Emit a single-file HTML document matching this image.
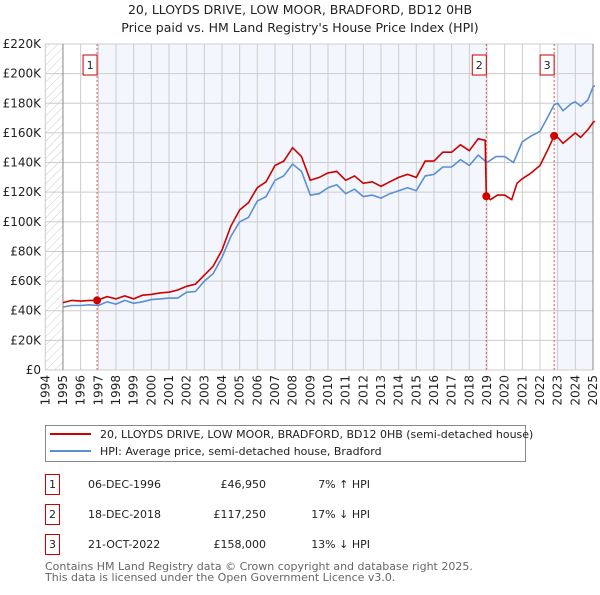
<!DOCTYPE html>
<html><head><meta charset="utf-8"><style>
body{margin:0;background:#fff;font-family:"Liberation Sans","DejaVu Sans",sans-serif;}
svg text{font-family:"DejaVu Sans","Liberation Sans",sans-serif;}
</style></head><body>
<svg id="c" width="600" height="590" xmlns="http://www.w3.org/2000/svg">
<defs><pattern id="hatch" width="6" height="6" patternUnits="userSpaceOnUse" patternTransform="rotate(45)"><line x1="0" y1="0" x2="0" y2="6" stroke="#ccc" stroke-width="1"/></pattern></defs>
<text x="300" y="14" text-anchor="middle" font-size="12.5" fill="#222">20, LLOYDS DRIVE, LOW MOOR, BRADFORD, BD12 0HB</text>
<text x="300" y="32" text-anchor="middle" font-size="12.5" fill="#222">Price paid vs. HM Land Registry's House Price Index (HPI)</text>
<g id="plot"></g>
<g>
<rect x="45.5" y="425.5" width="480" height="36" fill="#fff" stroke="#888"/>
<line x1="50" y1="434" x2="91" y2="434" stroke="#cc0000" stroke-width="2"/>
<text x="100" y="438" font-size="11" fill="#222">20, LLOYDS DRIVE, LOW MOOR, BRADFORD, BD12 0HB (semi-detached house)</text>
<line x1="50" y1="451" x2="91" y2="451" stroke="#5b8fd4" stroke-width="2"/>
<text x="100" y="455" font-size="11" fill="#222">HPI: Average price, semi-detached house, Bradford</text>
</g>
<g id="tbl" font-size="11" fill="#222"></g>
<text x="45" y="570" font-size="11" fill="#666">Contains HM Land Registry data © Crown copyright and database right 2025.</text>
<text x="45" y="581" font-size="11" fill="#666">This data is licensed under the Open Government Licence v3.0.</text>
</svg>
<script>
const hpiYears=[1995,1995.5,1996,1996.5,1997,1997.5,1998,1998.5,1999,1999.5,2000,2000.5,2001,2001.5,2002,2002.5,2003,2003.5,2004,2004.5,2005,2005.5,2006,2006.5,2007,2007.5,2008,2008.5,2009,2009.5,2010,2010.5,2011,2011.5,2012,2012.5,2013,2013.5,2014,2014.5,2015,2015.5,2016,2016.5,2017,2017.5,2018,2018.5,2019,2019.5,2020,2020.5,2021,2021.5,2022,2022.5,2022.8,2023,2023.3,2023.8,2024,2024.3,2024.7,2025,2025.1];
const hpiValues=[42.5,43.5,43.5,44,43.5,46,44.5,47,45,46,47.5,48,48.5,48.5,52.5,53,60,65,76,90,100,103,114,117,128,131,139,134,118,119,123,125,119,122,117,118,116,119,121,123,121,131,132,137,137,142,138,145,140,144,144,140,154,158,161,172,179,180,175,180,181,178,182,191,192];
const redYears=[1995,1995.5,1996,1996.5,1996.93,1997.5,1998,1998.5,1999,1999.5,2000,2000.5,2001,2001.5,2002,2002.5,2003,2003.5,2004,2004.5,2005,2005.5,2006,2006.5,2007,2007.5,2008,2008.5,2009,2009.5,2010,2010.5,2011,2011.5,2012,2012.5,2013,2013.5,2014,2014.5,2015,2015.5,2016,2016.5,2017,2017.5,2018,2018.5,2018.9,2018.96,2019.2,2019.6,2020,2020.4,2020.7,2021,2021.5,2022,2022.5,2022.8,2023,2023.3,2023.8,2024,2024.3,2024.7,2025,2025.1];
const redValues=[45.5,47,46.5,47,46.95,49.5,48,50,48,50.5,51,52,52.5,54,56.5,58,64,70,81,97,108,113,123,127,138,141,150,144,128,130,133,134,128,131,126,127,124,127,130,132,130,141,141,147,147,152,148,156,155,117.25,115,118,118,115,126,129,133,138,150,158,157,153,158,160,157,162,167,168];
const saleLabels=["1","2","3"];
const saleYears=[1996.93,2018.96,2022.8];
const saleValues=[46.95,117.25,158];
const saleDates=["06-DEC-1996","18-DEC-2018","21-OCT-2022"];
const salePrices=["£46,950","£117,250","£158,000"];
const saleDiffs=["7% ↑ HPI","17% ↓ HPI","13% ↓ HPI"];
const yTicks=[0,20,40,60,80,100,120,140,160,180,200,220];
const xTicks=[1994,1995,1996,1997,1998,1999,2000,2001,2002,2003,2004,2005,2006,2007,2008,2009,2010,2011,2012,2013,2014,2015,2016,2017,2018,2019,2020,2021,2022,2023,2024,2025];

const NS="http://www.w3.org/2000/svg";
const X0=45.3,X1=593,Y0=370,Y1=44;
const x=y=>X0+(y-1994)/(2025-1994)*(X1-X0);
const yv=v=>Y0-v/220*(Y0-Y1);
const g=document.getElementById('plot');
function mk(t,a,p){const e=document.createElementNS(NS,t);for(const k in a)e.setAttribute(k,a[k]);(p||g).appendChild(e);return e;}
let r=mk('rect',{x:x(1994),y:Y1,width:x(1995)-x(1994),height:Y0-Y1,fill:'url(#hatch)'});


r=mk('rect',{x:x(saleYears[0]),y:Y1,width:x(saleYears[1])-x(saleYears[0]),height:Y0-Y1,fill:'#eef3fc',opacity:0.7});


r=mk('rect',{x:x(saleYears[2]),y:Y1,width:X1-x(saleYears[2]),height:Y0-Y1,fill:'#eef3fc',opacity:0.7});


yTicks.forEach(v=>{
 const l=mk('line',{x1:X0,x2:X1,y1:yv(v),y2:yv(v),stroke:'#ccc','stroke-width':1});
 
 
 const t=mk('text',{x:41,y:yv(v)+4,'text-anchor':'end','font-size':12,fill:'#222'});
 t.textContent='£'+(v?v+'K':'0');
 
 
});
xTicks.forEach(yr=>{
 const l=mk('line',{x1:x(yr),x2:x(yr),y1:Y1,y2:Y0,stroke:'#ccc','stroke-width':1});
 
 
 const t=mk('text',{x:0,y:0,'text-anchor':'end','font-size':12,fill:'#222',transform:`translate(${x(yr)+4},375) rotate(-90)`});
 t.textContent=yr;
 
 
});
let ax=mk('line',{x1:x(1995),x2:x(1995),y1:Y1,y2:Y0,stroke:'#888'});


ax=mk('line',{x1:X1,x2:X1,y1:Y1,y2:Y0,stroke:'#888'});


saleYears.forEach((s,i)=>{
 const l=mk('line',{x1:x(s),x2:x(s),y1:Y1,y2:Y0,stroke:'#e05555','stroke-dasharray':'2,2','stroke-width':1});
 
 
});
const pts=(xs,vs)=>xs.map((a,i)=>x(a).toFixed(1)+','+yv(vs[i]).toFixed(1)).join(' ');
let p=mk('polyline',{points:pts(hpiYears,hpiValues),fill:'none',stroke:'#5b8fd4','stroke-width':1.6});


p=mk('polyline',{points:pts(redYears,redValues),fill:'none',stroke:'#cc0000','stroke-width':1.6});


saleYears.forEach((s,i)=>{
 const c=mk('circle',{cx:x(s),cy:yv(saleValues[i]),r:4,fill:'#cc0000'});
 
 
 const b=mk('rect',{x:x(s)-14,y:55,width:14,height:20,fill:'#fff',stroke:'#cc0000'});
 
 
 const t=mk('text',{x:x(s)-7,y:69,'text-anchor':'middle','font-size':11,fill:'#222'});
 t.textContent=saleLabels[i];
 
 
});
const tb=document.getElementById('tbl');
saleLabels.forEach((lab,i)=>{
 const yy=483+i*30;
 const b=mk('rect',{x:45.5,y:yy-8.5,width:14,height:20,fill:'#fff',stroke:'#cc0000'},tb);
 
 
 const cells=[[52.5,lab,'middle'],[88,saleDates[i],'start'],[266,salePrices[i],'end'],[370,saleDiffs[i],'end']];
 cells.forEach(c=>{const t=mk('text',{x:c[0],y:yy+5,'text-anchor':c[2]},tb);t.textContent=c[1];
 
 });
});
</script>
</body></html>
